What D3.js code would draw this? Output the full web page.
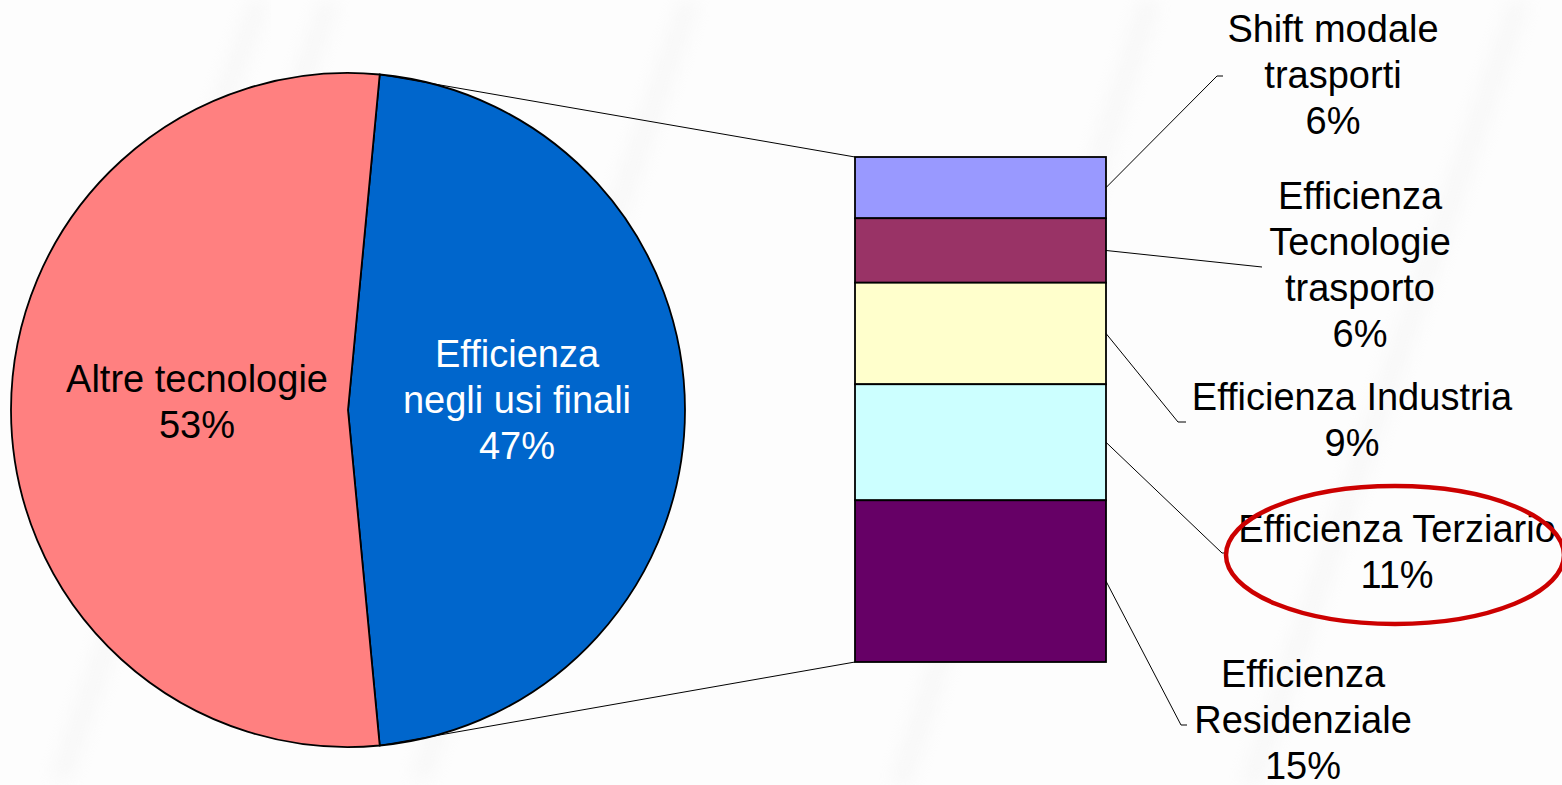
<!DOCTYPE html>
<html>
<head>
<meta charset="utf-8">
<script src="https://cdn.jsdelivr.net/npm/d3@7"></script>
<style>
  html, body { margin: 0; padding: 0; background: #fdfdfd; }
  svg { display: block; font-family: "Liberation Sans", Arial, sans-serif; }
</style>
</head>
<body>
<svg id="chart" width="1562" height="785"></svg>
<script>
// pie data
var pieNames = ["Efficienza negli usi finali", "Altre tecnologie"]
var pieValues = [47, 53]
var pieColors = ["#0066CC", "#FF8080"]
var pieLabelLines = [["Efficienza", "negli usi finali", "47%"], ["Altre tecnologie", "53%"]]

// bar (breakdown of the 47%), from top to bottom
var barNames = ["Shift modale trasporti", "Efficienza Tecnologie trasporto", "Efficienza Industria", "Efficienza Terziario", "Efficienza Residenziale"]
var barValues = [5.7, 6.0, 9.45, 10.8, 15.05]
var barColors = ["#9999FF", "#993366", "#FFFFCC", "#CCFFFF", "#660066"]
var barLabelLines = [
  ["Shift modale", "trasporti", "6%"],
  ["Efficienza", "Tecnologie", "trasporto", "6%"],
  ["Efficienza Industria", "9%"],
  ["Efficienza Terziario", "11%"],
  ["Efficienza", "Residenziale", "15%"]
]

var svg = d3.select("#chart")
var fontSize = 38
var lineH = 46

// faint background streaks
var bg = svg.append("g")
var defs = svg.append("defs")
defs.append("filter").attr("id", "blur").append("feGaussianBlur").attr("stdDeviation", 9)
var streaks = [[60, 780, 330, 0], [420, 780, 690, 0], [900, 785, 1150, 0], [1250, 785, 1520, 0], [150, 300, 260, 0]]
bg.selectAll("line").data(streaks).enter().append("line")
  .attr("x1", d => d[0]).attr("y1", d => d[1]).attr("x2", d => d[2]).attr("y2", d => d[3])
  .attr("stroke", "#ececec").attr("stroke-width", 18).attr("opacity", 0.35)
  .attr("filter", "url(#blur)")

// ---- pie ----
var cx = 348, cy = 410, r = 337
var total = d3.sum(pieValues)
var start = Math.PI / 2 - (pieValues[0] / total) * Math.PI
var pie = d3.pie().sort(null).startAngle(start).endAngle(start + 2 * Math.PI)
var arcs = pie(pieValues)
var arc = d3.arc().innerRadius(0).outerRadius(r)

var pieG = svg.append("g").attr("transform", "translate(" + cx + "," + cy + ")")
pieG.selectAll("path").data(arcs).enter().append("path")
  .attr("d", arc)
  .attr("fill", (d, i) => pieColors[i])
  .attr("stroke", "#000")
  .attr("stroke-width", 1.8)

// ---- bar ----
var barX = 855, barW = 251
var yScale = d3.scaleLinear().domain([0, d3.sum(barValues)]).range([157, 662])
var cum = 0
var segs = barValues.map(function(v, i) {
  var s = {y0: cum, y1: cum + v, i: i}
  cum += v
  return s
})

svg.append("g").selectAll("rect").data(segs).enter().append("rect")
  .attr("x", barX)
  .attr("y", d => yScale(d.y0))
  .attr("width", barW)
  .attr("height", d => yScale(d.y1) - yScale(d.y0))
  .attr("fill", d => barColors[d.i])
  .attr("stroke", "#000")
  .attr("stroke-width", 1.8)

// connector lines from the blue slice edges to the bar
var a0 = arcs[0].startAngle, a1 = arcs[0].endAngle
var p0 = [cx + r * Math.sin(a0), cy - r * Math.cos(a0)]
var p1 = [cx + r * Math.sin(a1), cy - r * Math.cos(a1)]
svg.append("line").attr("x1", p0[0]).attr("y1", p0[1]).attr("x2", barX).attr("y2", yScale(0))
  .attr("stroke", "#000").attr("stroke-width", 1)
svg.append("line").attr("x1", p1[0]).attr("y1", p1[1]).attr("x2", barX).attr("y2", yScale(cum))
  .attr("stroke", "#000").attr("stroke-width", 1)

// ---- pie labels ----
var pieLabelPos = [[517, 367], [197, 392]]
var pieTextColors = ["#fff", "#000"]
pieLabelLines.forEach(function(lines, i) {
  var t = svg.append("text")
    .attr("text-anchor", "middle")
    .attr("font-size", fontSize)
    .attr("fill", pieTextColors[i])
  lines.forEach(function(l, k) {
    t.append("tspan").attr("x", pieLabelPos[i][0]).attr("y", pieLabelPos[i][1] + k * lineH).text(l)
  })
})

// ---- bar labels and leader lines ----
var barLabelPos = [[1333, 42], [1360, 209], [1352, 410], [1397, 542], [1303, 687]]
var leaderEnds = [[[1217, 76], [1223, 76]], [[1262, 267]], [[1178, 422], [1186, 422]], [[1222, 553], [1226, 553]], [[1181, 725], [1187, 725]]]

var line = d3.line()
segs.forEach(function(s, i) {
  var pts = [[barX + barW, (yScale(s.y0) + yScale(s.y1)) / 2]].concat(leaderEnds[i])
  svg.append("path").attr("d", line(pts)).attr("fill", "none")
    .attr("stroke", "#000").attr("stroke-width", 1)
})

barLabelLines.forEach(function(lines, i) {
  var t = svg.append("text")
    .attr("text-anchor", "middle")
    .attr("font-size", fontSize)
    .attr("fill", "#000")
  lines.forEach(function(l, k) {
    t.append("tspan").attr("x", barLabelPos[i][0]).attr("y", barLabelPos[i][1] + k * lineH).text(l)
  })
})

// red highlight ellipse around "Efficienza Terziario"
svg.append("ellipse")
  .attr("cx", 1395).attr("cy", 555).attr("rx", 169).attr("ry", 69)
  .attr("fill", "none").attr("stroke", "#CC0000").attr("stroke-width", 4.5)
</script>
</body>
</html>
